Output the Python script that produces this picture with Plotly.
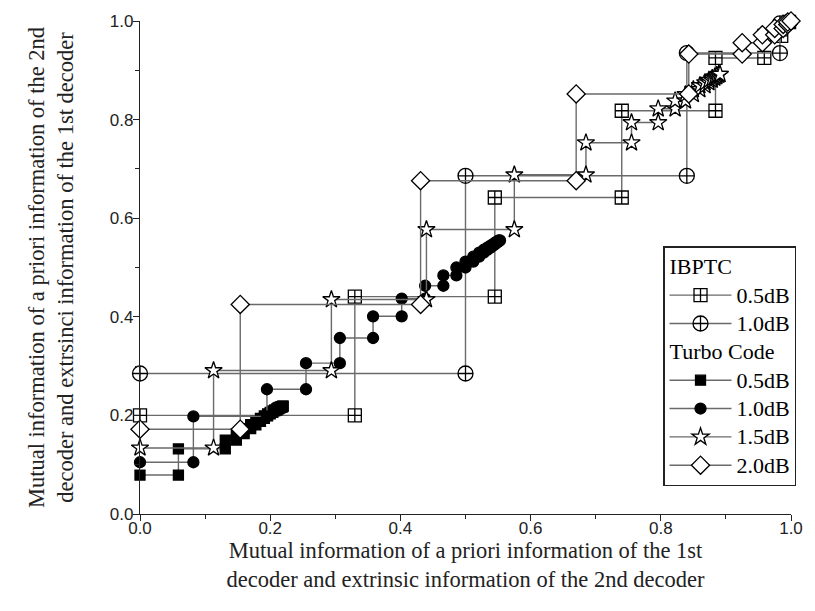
import plotly.graph_objects as go

# ---- data ----
ibptc05_x = [0.0, 0.330, 0.330, 0.545, 0.545, 0.740, 0.740, 0.884, 0.884, 0.959, 0.959, 0.985, 0.985, 0.997]
ibptc05_y = [0.200, 0.200, 0.441, 0.441, 0.642, 0.642, 0.818, 0.818, 0.925, 0.925, 0.970, 0.970, 0.990, 0.998]

ibptc10_x = [0.0, 0.500, 0.500, 0.840, 0.840, 0.983, 0.983, 0.998]
ibptc10_y = [0.285, 0.285, 0.686, 0.686, 0.935, 0.935, 0.995, 0.999]

turbo05_x = [0.0, 0.059, 0.059, 0.131, 0.131, 0.148, 0.148, 0.160, 0.160, 0.170, 0.170, 0.178, 0.178,
             0.185, 0.185, 0.191, 0.191, 0.196, 0.196, 0.200, 0.200, 0.204, 0.204, 0.207, 0.207,
             0.210, 0.210, 0.212, 0.212, 0.214, 0.214, 0.216, 0.216, 0.218, 0.218, 0.219, 0.219, 0.220]
turbo05_y = [0.079, 0.079, 0.132, 0.132, 0.150, 0.150, 0.163, 0.163, 0.173, 0.173, 0.181, 0.181, 0.188,
             0.188, 0.194, 0.194, 0.199, 0.199, 0.203, 0.203, 0.206, 0.206, 0.209, 0.209, 0.211,
             0.211, 0.213, 0.213, 0.215, 0.215, 0.216, 0.216, 0.217, 0.217, 0.218, 0.218, 0.219, 0.219]

turbo10_x = [0.0, 0.082, 0.082, 0.195, 0.195, 0.255, 0.255, 0.307, 0.307, 0.358, 0.358, 0.402, 0.402,
             0.438, 0.438, 0.466, 0.466, 0.486, 0.486, 0.500, 0.500, 0.512, 0.512, 0.521, 0.521,
             0.528, 0.528, 0.534, 0.534, 0.539, 0.539, 0.543, 0.543, 0.546, 0.546, 0.549, 0.549,
             0.551, 0.551, 0.553]
turbo10_y = [0.105, 0.105, 0.198, 0.198, 0.253, 0.253, 0.306, 0.306, 0.357, 0.357, 0.401, 0.401, 0.437,
             0.437, 0.463, 0.463, 0.484, 0.484, 0.500, 0.500, 0.512, 0.512, 0.522, 0.522, 0.530,
             0.530, 0.536, 0.536, 0.541, 0.541, 0.545, 0.545, 0.548, 0.548, 0.551, 0.551, 0.553,
             0.553, 0.555, 0.555]

turbo15_x = [0.0, 0.113, 0.113, 0.294, 0.294, 0.440, 0.440, 0.575, 0.575, 0.685, 0.685, 0.755, 0.755,
             0.796, 0.796, 0.822, 0.822, 0.838, 0.838, 0.850, 0.850, 0.860, 0.860, 0.868, 0.868,
             0.874, 0.874, 0.879, 0.879, 0.883, 0.883, 0.886, 0.886, 0.889, 0.889, 0.891]
turbo15_y = [0.134, 0.134, 0.291, 0.291, 0.435, 0.435, 0.577, 0.577, 0.688, 0.688, 0.753, 0.753, 0.794,
             0.794, 0.822, 0.822, 0.838, 0.838, 0.851, 0.851, 0.861, 0.861, 0.869, 0.869, 0.875,
             0.875, 0.880, 0.880, 0.884, 0.884, 0.887, 0.887, 0.890, 0.890, 0.892, 0.892]

turbo20_x = [0.0, 0.154, 0.154, 0.431, 0.431, 0.670, 0.670, 0.843, 0.843, 0.925, 0.925, 0.956, 0.956,
             0.975, 0.975, 0.988, 0.988, 0.995, 0.995, 1.000]
turbo20_y = [0.172, 0.172, 0.425, 0.425, 0.676, 0.676, 0.852, 0.852, 0.933, 0.933, 0.956, 0.956, 0.972,
             0.972, 0.985, 0.985, 0.993, 0.993, 0.998, 1.000]

x_tick_vals = [0.0, 0.2, 0.4, 0.6, 0.8, 1.0]
y_tick_vals = [0.0, 0.2, 0.4, 0.6, 0.8, 1.0]

x_title = "Mutual information of a priori information of the 1st<br>decoder and extrinsic information of the 2nd decoder"
y_title = "Mutual information of a priori information of the 2nd<br>decoder and extrsinci information of the 1st decoder"

LINE = "#6a6a6a"
SERIF = "Liberation Serif, Times New Roman, serif"
SANS = "Liberation Sans, Arial, sans-serif"
BIG = '<span style="font-size:22px">{}</span>'

series = [
    ("ibptc", "IBPTC", "0.5dB", ibptc05_x, ibptc05_y, "square-cross", "white", 13),
    ("ibptc", "IBPTC", "1.0dB", ibptc10_x, ibptc10_y, "circle-cross", "white", 15),
    ("turbo", "Turbo Code", "0.5dB", turbo05_x, turbo05_y, "square", "black", 10),
    ("turbo", "Turbo Code", "1.0dB", turbo10_x, turbo10_y, "circle", "black", 11),
    ("turbo", "Turbo Code", "1.5dB", turbo15_x, turbo15_y, "star", "white", 13),
    ("turbo", "Turbo Code", "2.0dB", turbo20_x, turbo20_y, "diamond", "white", 14),
]

fig = go.Figure()
for grp, gtitle, name, xs, ys, sym, fill, size in series:
    fig.add_trace(go.Scatter(
        x=xs, y=ys, name=BIG.format(name), mode="lines+markers",
        legendgroup=grp,
        legendgrouptitle=dict(text=BIG.format(gtitle), font=dict(family=SERIF, size=19.5, color="black")),
        line=dict(color=LINE, width=1.4),
        marker=dict(symbol=sym, color=fill, size=size, line=dict(color="black", width=1.3)),
        cliponaxis=False,
    ))

axis_common = dict(
    range=[0, 1.0], showgrid=False, zeroline=False, showline=True, linecolor="#222", linewidth=1.3,
    ticks="outside", ticklen=6, tickwidth=1.3, tickcolor="#222",
    tickfont=dict(family=SANS, size=17, color="#222"), tickformat=".1f",
    minor=dict(ticks="outside", ticklen=4, tickwidth=1.3, tickcolor="#222", dtick=0.1),
)

fig.update_xaxes(**axis_common, tickvals=x_tick_vals, ticklabelstandoff=-8,
                 title=dict(text=x_title, font=dict(family=SERIF, size=22.5, color="#222"), standoff=0))
fig.update_yaxes(**axis_common, tickvals=y_tick_vals, ticklabelstandoff=-4,
                 title=dict(text=y_title, font=dict(family=SERIF, size=22.5, color="#222"), standoff=29))

fig.update_layout(
    width=815, height=611,
    margin=dict(l=140, r=18, t=20, b=97),
    plot_bgcolor="white", paper_bgcolor="white",
    showlegend=True,
    legend=dict(x=1.008, xanchor="right", y=0.543, yanchor="top",
                bordercolor="#222", borderwidth=1.3, bgcolor="white",
                font=dict(family=SERIF, size=19.5, color="black"),
                tracegroupgap=0, itemwidth=62, traceorder="grouped"),
)

fig.write_html("out.html")
